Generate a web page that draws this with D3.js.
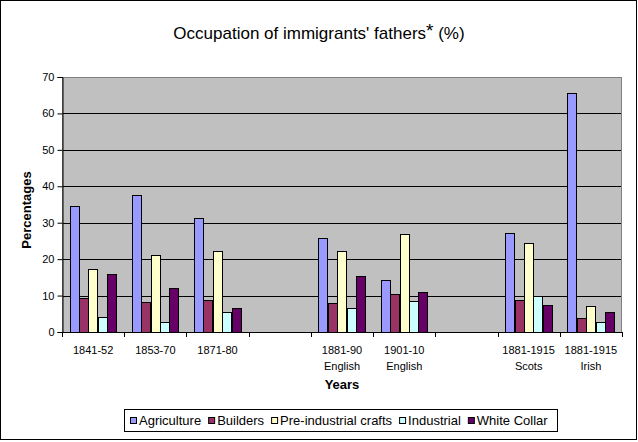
<!DOCTYPE html>
<html>
<head>
<meta charset="utf-8">
<script src="https://cdn.jsdelivr.net/npm/d3@7/dist/d3.min.js"></script>
<style>
html,body{margin:0;padding:0;background:#fff;}
svg{display:block;font-family:Arial,"Liberation Sans",sans-serif;}
</style>
</head>
<body>
<svg id="chart" width="638" height="442"></svg>
<script>
// ---- data ----
const categories = ["1841-52", "1853-70", "1871-80", "", "1881-90|English", "1901-10|English", "", "1881-1915|Scots", "1881-1915|Irish"];
const seriesNames = ["Agriculture", "Builders", "Pre-industrial crafts", "Industrial", "White Collar"];
const agriculture   = [34.6, 37.7, 31.3, null, 25.8, 14.3, null, 27.2, 65.5];
const builders      = [9.2, 8.3, 8.8, null, 8.0, 10.4, null, 8.9, 3.9];
const preIndustrial = [17.4, 21.2, 22.3, null, 22.1, 27.0, null, 24.5, 7.2];
const industrial    = [4.2, 2.8, 5.5, null, 6.6, 8.5, null, 9.9, 2.8];
const whiteCollar   = [15.9, 12.2, 6.7, null, 15.4, 11.0, null, 7.5, 5.6];
const yTicks = [0, 10, 20, 30, 40, 50, 60, 70];
const colors = ["#9999FF", "#993366", "#FFFFCC", "#CCFFFF", "#660066"];

const seriesValues = [agriculture, builders, preIndustrial, industrial, whiteCollar];

// ---- layout ----
const svg = d3.select("#chart");
const plot = {left: 62, right: 622, top: 77, bottom: 332};

svg.append("rect").attr("x", 0.5).attr("y", 0.5).attr("width", 636).attr("height", 439)
  .attr("fill", "#fff").attr("stroke", "#000");

const x0 = d3.scaleBand().domain(d3.range(categories.length)).range([plot.left, plot.right]).paddingInner(0).paddingOuter(0);
const groupPad = 0.122 * x0.bandwidth();
const x1 = d3.scaleBand().domain(d3.range(seriesNames.length)).range([groupPad, x0.bandwidth() - groupPad]).padding(0);
const y = d3.scaleLinear().domain([0, 70]).range([plot.bottom, plot.top]);

// plot background
svg.append("rect").attr("x", plot.left).attr("y", plot.top)
  .attr("width", plot.right - plot.left).attr("height", plot.bottom - plot.top)
  .attr("fill", "#C0C0C0");

// gridlines
svg.append("g").selectAll("line").data(yTicks.filter(t => t > 0 && t < 70)).join("line")
  .attr("x1", plot.left).attr("x2", plot.right)
  .attr("y1", d => Math.round(y(d)) + 0.5).attr("y2", d => Math.round(y(d)) + 0.5)
  .attr("stroke", "#000").attr("stroke-width", 1);

// plot border
svg.append("rect").attr("x", plot.left + 0.5).attr("y", plot.top + 0.5)
  .attr("width", plot.right - plot.left - 1).attr("height", plot.bottom - plot.top)
  .attr("fill", "none").attr("stroke", "#808080");

// bars
const barData = [];
categories.forEach((c, i) => {
  seriesValues.forEach((vals, s) => {
    if (vals[i] != null) barData.push({i, s, v: vals[i]});
  });
});
svg.append("g").selectAll("rect").data(barData).join("rect")
  .attr("x", d => Math.round(x0(d.i) + x1(d.s)) + 0.5)
  .attr("y", d => Math.round(y(d.v)) + 0.5)
  .attr("width", d => Math.round(x1.bandwidth()))
  .attr("height", d => Math.round(y(0)) - Math.round(y(d.v)))
  .attr("fill", d => colors[d.s])
  .attr("stroke", "#000").attr("stroke-width", 1);

// y axis
const yAxis = d3.axisLeft(y).tickValues(yTicks).tickSize(5).tickPadding(3);
const gy = svg.append("g").attr("transform", `translate(${plot.left + 0.5},0)`).call(yAxis);
gy.select(".domain").attr("stroke", "#000");
gy.selectAll(".tick line").attr("stroke", "#000");
gy.selectAll(".tick text").attr("font-size", 11).attr("fill", "#000")
  .attr("font-family", "Arial, 'Liberation Sans', sans-serif");

// x axis: ticks at category boundaries
const gx = svg.append("g");
gx.append("line").attr("x1", plot.left).attr("x2", plot.right)
  .attr("y1", plot.bottom + 0.5).attr("y2", plot.bottom + 0.5).attr("stroke", "#000");
const boundaries = d3.range(categories.length + 1).map(i => i < categories.length ? x0(i) : plot.right);
gx.selectAll("line.tk").data(boundaries).join("line").attr("class", "tk")
  .attr("x1", d => Math.round(d) + 0.5).attr("x2", d => Math.round(d) + 0.5)
  .attr("y1", plot.bottom).attr("y2", plot.bottom + 5).attr("stroke", "#000");
const labels = gx.selectAll("text").data(categories).join("text")
  .attr("x", (d, i) => x0(i) + x0.bandwidth() / 2)
  .attr("y", plot.bottom + 22)
  .attr("text-anchor", "middle").attr("font-size", 11).attr("fill", "#000");
labels.each(function(d) {
  const parts = d.split("|");
  const t = d3.select(this);
  parts.forEach((p, k) => {
    t.append("tspan").attr("x", t.attr("x")).attr("dy", k === 0 ? 0 : 16).text(p);
  });
});

// axis titles
svg.append("text").attr("x", 342).attr("y", 389).attr("text-anchor", "middle")
  .attr("font-size", 13).attr("font-weight", "bold").text("Years");
svg.append("text").attr("transform", "translate(31,210) rotate(-90)").attr("text-anchor", "middle")
  .attr("font-size", 13).attr("font-weight", "bold").text("Percentages");

// title
const title = svg.append("text").attr("x", 319).attr("y", 39).attr("text-anchor", "middle")
  .attr("font-size", 17);
title.append("tspan").text("Occupation of immigrants' fathers");
title.append("tspan").attr("font-size", 19).attr("dy", -2).text("*");
title.append("tspan").attr("dy", 2).text(" (%)");

// legend
const lg = svg.append("g");
lg.append("rect").attr("x", 124.5).attr("y", 409.5).attr("width", 433).attr("height", 22)
  .attr("fill", "#fff").attr("stroke", "#000");
let lx = 130;
seriesNames.forEach((name, s) => {
  lg.append("rect").attr("x", lx + 0.5).attr("y", 417.5).attr("width", 6).attr("height", 6)
    .attr("fill", colors[s]).attr("stroke", "#000");
  const t = lg.append("text").attr("x", lx + 9).attr("y", 425).attr("font-size", 13).text(name);
  lx += 9 + t.node().getComputedTextLength() + 7;
});
</script>
</body>
</html>
